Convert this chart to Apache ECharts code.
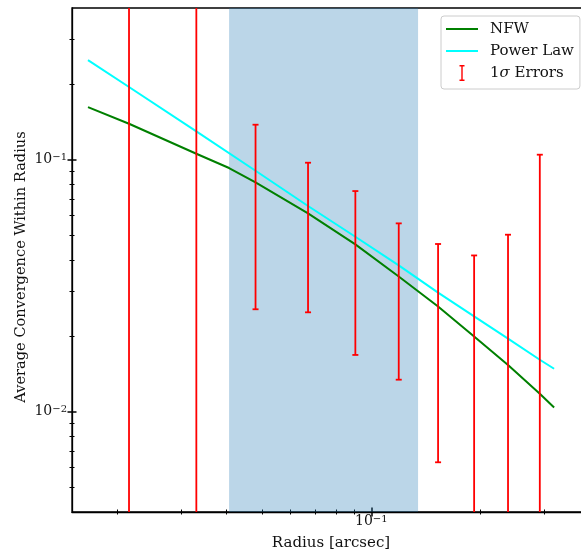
<!DOCTYPE html>
<html>
<head>
<meta charset="utf-8">
<script src="https://cdn.jsdelivr.net/npm/echarts@6/dist/echarts.min.js"></script>
<style>
  html, body { margin: 0; padding: 0; background: #ffffff; }
  #chart { width: 581px; height: 554px; }
</style>
</head>
<body>
<div id="chart"></div>
<script>
// Axis ranges and tick values
const xRange = [0.015, 0.4];
const yRange = [0.004, 0.4];
const xMajorTicks = [0.1];
const xMinorTicks = [0.02, 0.03, 0.04, 0.05, 0.06, 0.07, 0.08, 0.09, 0.2, 0.3];
const yMajorTicks = [0.01, 0.1];
const yMinorTicks = [0.005, 0.006, 0.007, 0.008, 0.009,
                     0.02, 0.03, 0.04, 0.05, 0.06, 0.07, 0.08, 0.09, 0.2, 0.3];

// Shaded radius interval
const bandRange = [0.0406, 0.1345];

// NFW model curve
const nfwRadius = [0.0166, 0.02153, 0.03299, 0.0406, 0.04801, 0.06697, 0.09039,
                   0.1190, 0.1527, 0.1919, 0.2379, 0.2910, 0.3186];
const nfwValues = [0.1618, 0.1389, 0.1056, 0.0927, 0.08127, 0.06122, 0.04612,
                   0.03441, 0.02617, 0.01990, 0.01532, 0.01179, 0.01040];

// Power-law model
const plRadius = [0.0166, 0.02153, 0.03299, 0.04801, 0.06697, 0.09039,
                  0.1190, 0.1527, 0.1919, 0.2379, 0.2910, 0.3186];
const plValues = [0.2486, 0.1943, 0.1295, 0.09044, 0.06553, 0.04948,
                  0.03806, 0.02967, 0.02388, 0.01949, 0.01608, 0.01481];

// 1-sigma error intervals (lower / upper bounds)
const errRadius = [0.02153, 0.03299, 0.04801, 0.06697, 0.09039, 0.1190,
                   0.1527, 0.1919, 0.2379, 0.2910];
const errLow  = [0.001, 0.001, 0.0255, 0.0248, 0.0168, 0.0134,
                 0.0063, 0.001, 0.001, 0.001];
const errHigh = [1.0, 1.0, 0.1377, 0.0973, 0.0751, 0.0559,
                 0.0463, 0.0417, 0.0504, 0.1047];

const FONT = 'DejaVu Serif';
const INK = '#111111';

// 10^n labels with a raised exponent
const powLabel = function (v) {
  const e = Math.round(Math.log10(v));
  return '{b|10}{s|' + (e < 0 ? '\u2212' : '') + Math.abs(e) + '}';
};
const powRich = {
  b: { fontFamily: FONT, fontSize: 14, lineHeight: 14, color: INK, verticalAlign: 'bottom' },
  s: { fontFamily: FONT, fontSize: 10, lineHeight: 10, color: INK, padding: [0, 0, 8, 0], verticalAlign: 'top' }
};

// One log axis layer; several layers share the same scale to build
// in-and-out major / minor ticks.
function axisLayer(dim, range, ticks, opts) {
  const base = {
    type: 'log',
    logBase: 10,
    min: range[0],
    max: range[1],
    position: dim === 'x' ? 'bottom' : 'left',
    gridIndex: 0,
    splitLine: { show: false },
    minorTick: { show: false },
    minorSplitLine: { show: false },
    axisLine: { show: false, onZero: false },
    axisTick: {
      show: true,
      customValues: ticks,
      inside: !!opts.inside,
      length: opts.length,
      lineStyle: { color: '#000', width: opts.width }
    },
    axisLabel: { show: false },
    axisPointer: { show: false },
    silent: true
  };
  return Object.assign(base, opts.extra || {});
}

const xAxes = [
  axisLayer('x', xRange, xMajorTicks, {
    length: 4.5, width: 1.5,
    extra: {
      axisLine: { show: true, onZero: false, lineStyle: { color: '#000', width: 1.3 } },
      axisLabel: { show: true, customValues: xMajorTicks, margin: 2, formatter: powLabel, rich: powRich },
      name: 'Radius [arcsec]',
      nameLocation: 'middle',
      nameGap: 24,
      nameMoveOverlap: false,
      nameTextStyle: { fontFamily: FONT, fontSize: 15, color: INK }
    }
  }),
  axisLayer('x', xRange, xMajorTicks, { inside: true, length: 4.5, width: 1.5 }),
  axisLayer('x', xRange, xMinorTicks, { length: 2.5, width: 1 }),
  axisLayer('x', xRange, xMinorTicks, { inside: true, length: 2.5, width: 1 })
];

const yAxes = [
  axisLayer('y', yRange, yMajorTicks, {
    length: 4.5, width: 1.5,
    extra: {
      axisLine: { show: true, onZero: false, lineStyle: { color: '#000', width: 1.3 } },
      axisLabel: { show: true, customValues: yMajorTicks, margin: 5, formatter: powLabel, rich: powRich },
      name: 'Average Convergence Within Radius',
      nameLocation: 'middle',
      nameGap: 43,
      nameMoveOverlap: false,
      nameTextStyle: { fontFamily: FONT, fontSize: 14.6, color: INK, padding: [0, 14, 0, 0] }
    }
  }),
  axisLayer('y', yRange, yMajorTicks, { inside: true, length: 4.5, width: 1.5 }),
  axisLayer('y', yRange, yMinorTicks, { length: 2.5, width: 1 }),
  axisLayer('y', yRange, yMinorTicks, { inside: true, length: 2.5, width: 1 })
];

const zip = (a, b) => a.map((v, i) => [v, b[i]]);
const errData = errRadius.map((r, i) => [r, errLow[i], errHigh[i]]);

const ERR_NAME = '1\u03c3 Errors';
const LINE_ICON = 'path://M0,0H32V2H0Z';

const chart = echarts.init(document.getElementById('chart'), null, { renderer: 'canvas' });

chart.setOption({
  animation: false,
  backgroundColor: '#ffffff',
  grid: {
    left: 72, right: -9, top: 8, bottom: 42,
    outerBoundsMode: 'none',
    containLabel: false,
    show: true, borderColor: '#000', borderWidth: 1.3, backgroundColor: 'transparent'
  },
  xAxis: xAxes,
  yAxis: yAxes,
  legend: {
    left: 441,
    top: 16,
    orient: 'vertical',
    padding: [5, 6, 8, 5],
    itemWidth: 32,
    itemHeight: 16,
    itemGap: 6,
    backgroundColor: 'rgba(255,255,255,0.8)',
    borderColor: '#cccccc',
    borderWidth: 1,
    borderRadius: 3,
    selectedMode: false,
    textStyle: {
      fontFamily: FONT, fontSize: 15, color: INK, padding: [0, 0, 0, 7], lineHeight: 16,
      rich: {
        n: { fontFamily: FONT, fontSize: 15, color: INK },
        i: { fontFamily: FONT, fontSize: 15, color: INK, fontStyle: 'italic' }
      }
    },
    formatter: function (name) {
      if (name === ERR_NAME) return '{n|1}{i|\u03c3}{n| Errors}';
      return name;
    },
    data: [
      { name: 'NFW', icon: LINE_ICON },
      { name: 'Power Law', icon: LINE_ICON },
      { name: ERR_NAME, icon: 'path://M0,0H5V1.5H3.2V14.5H5V16H0V14.5H1.8V1.5H0Z' }
    ]
  },
  series: [
    {
      name: 'band',
      type: 'line',
      data: [],
      z: 1,
      silent: true,
      markArea: {
        silent: true,
        itemStyle: { color: 'rgba(31,119,180,0.3)' },
        data: [[{ xAxis: bandRange[0] }, { xAxis: bandRange[1] }]]
      }
    },
    {
      name: 'NFW',
      type: 'line',
      data: zip(nfwRadius, nfwValues),
      showSymbol: false,
      symbol: 'none',
      z: 3,
      color: '#008000',
      lineStyle: { color: '#008000', width: 2 }
    },
    {
      name: 'Power Law',
      type: 'line',
      data: zip(plRadius, plValues),
      showSymbol: false,
      symbol: 'none',
      z: 3,
      color: '#00ffff',
      lineStyle: { color: '#00ffff', width: 2 }
    },
    {
      name: ERR_NAME,
      type: 'custom',
      z: 4,
      clip: true,
      color: '#ff0000',
      itemStyle: { color: '#ff0000' },
      encode: { x: 0, y: [1, 2] },
      data: errData,
      renderItem: function (params, api) {
        const r = api.value(0);
        const lo = api.coord([r, api.value(1)]);
        const hi = api.coord([r, api.value(2)]);
        const cap = 3;
        const style = { stroke: '#ff0000', lineWidth: 1.8 };
        return {
          type: 'group',
          children: [
            { type: 'line', shape: { x1: lo[0], y1: lo[1], x2: hi[0], y2: hi[1] }, style: style },
            { type: 'line', shape: { x1: hi[0] - cap, y1: hi[1], x2: hi[0] + cap, y2: hi[1] }, style: style },
            { type: 'line', shape: { x1: lo[0] - cap, y1: lo[1], x2: lo[0] + cap, y2: lo[1] }, style: style }
          ]
        };
      }
    }
  ]
});
</script>
</body>
</html>
